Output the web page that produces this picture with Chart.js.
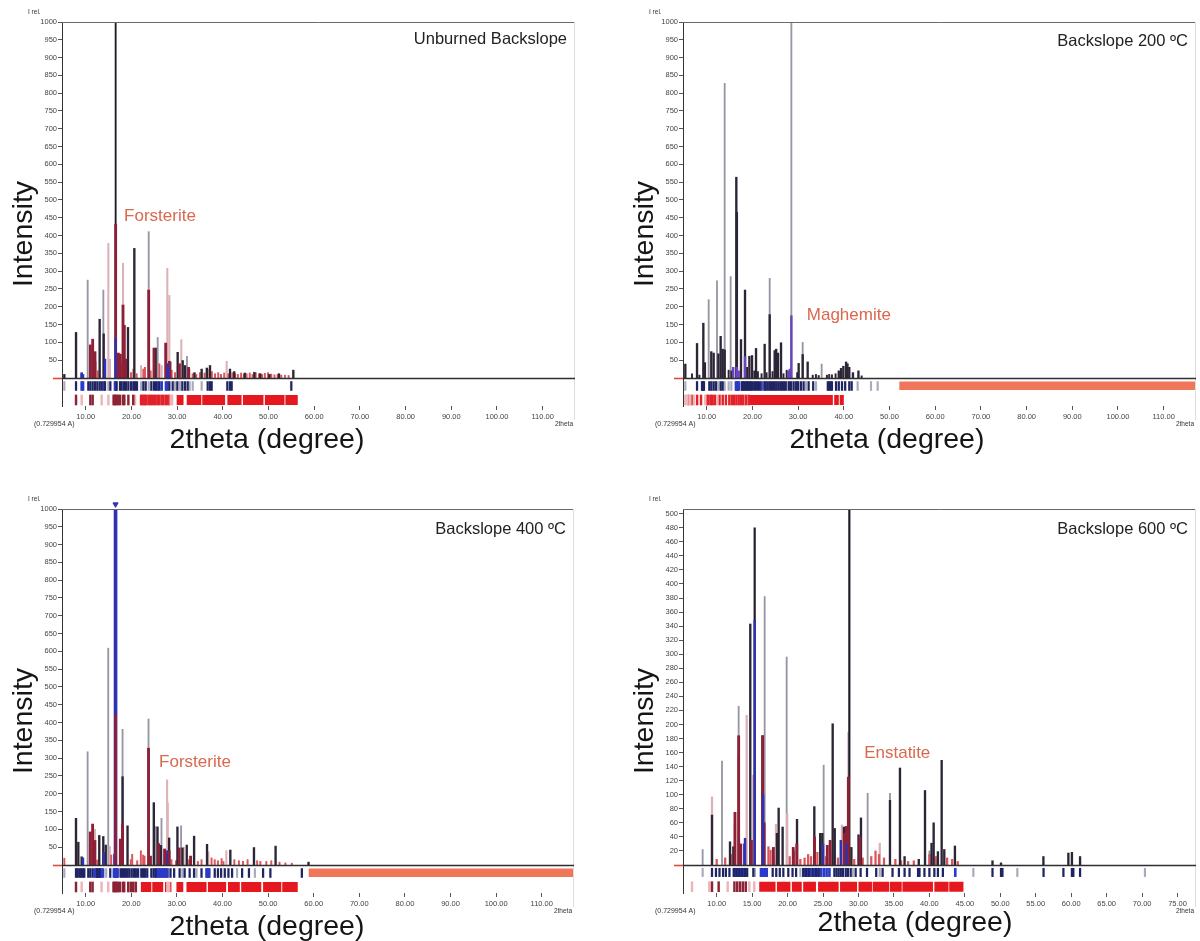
<!DOCTYPE html>
<html>
<head>
<meta charset="utf-8">
<script src="https://cdn.jsdelivr.net/npm/chart.js@4.4.1/dist/chart.umd.min.js"></script>
<style>
  body { margin: 0; background: #fff; width: 1200px; height: 941px; position: relative; overflow: hidden; }
  canvas { position: absolute; }
</style>
</head>
<body>
<canvas id="unburned" width="579" height="454" style="left:0;top:0"></canvas>
<canvas id="b200" width="579" height="454" style="left:621px;top:0"></canvas>
<canvas id="b400" width="579" height="454" style="left:0;top:487px"></canvas>
<canvas id="b600" width="579" height="454" style="left:621px;top:487px"></canvas>
<script>
// ---- axis ticks ----
const ticksWide = [10, 20, 30, 40, 50, 60, 70, 80, 90, 100, 110];
const ticksNarrow = [10, 15, 20, 25, 30, 35, 40, 45, 50, 55, 60, 65, 70, 75];
const ticksI1000 = [50, 100, 150, 200, 250, 300, 350, 400, 450, 500, 550, 600, 650, 700, 750, 800, 850, 900, 950, 1000];
const ticksI500 = [20, 40, 60, 80, 100, 120, 140, 160, 180, 200, 220, 240, 260, 280, 300, 320, 340, 360, 380, 400, 420, 440, 460, 480, 500];

// ---- Unburned Backslope: sticks [2theta, I rel.] ----
const unburnedMain = [[16.55, 1000]];
const unburnedGray = [[10.43, 275], [13.86, 247], [23.78, 411], [25.75, 114], [32.16, 61]];
const unburnedPink = [[12.25, 46], [14.95, 378], [15.31, 53], [18.16, 322], [22.1, 35], [26.62, 35], [27.86, 308], [28.3, 232], [30.92, 108], [40.84, 47]];
const unburnedDark = [[5.32, 10], [7.88, 128], [9.12, 12], [13.05, 165], [13.93, 124], [19.25, 142], [20.64, 364], [25.31, 84], [28.3, 47], [30.12, 72], [31.22, 49], [31.73, 35], [33.8, 15], [35.37, 25], [36.5, 28], [37.2, 35], [41.57, 25], [42.5, 18], [44.8, 14], [46.9, 16], [48.2, 12], [50.2, 10], [52.3, 12], [55.43, 22]];
const unburnedWine = [[11.01, 93], [11.52, 109], [12.03, 74], [16.55, 432], [17.14, 70], [17.58, 67], [18.16, 205], [18.45, 148], [18.74, 53], [23.78, 247], [24.94, 84], [27.5, 98], [28.45, 45], [30.5, 40], [32.5, 30]];
const unburnedBlue = [[9.12, 15], [9.41, 10], [14.22, 53], [16.55, 110], [27.9, 40], [28.1, 25]];
const unburnedRed = [[12.62, 20], [17.87, 40], [19.91, 15], [20.42, 25], [21.15, 12], [22.61, 25], [22.97, 30], [24.21, 20], [26.11, 40], [28.81, 22], [29.54, 15], [32.67, 25], [33.4, 12], [34.2, 10], [35.0, 15], [36.0, 14], [36.7, 25], [37.6, 18], [38.3, 12], [39.0, 15], [39.6, 10], [40.3, 14], [41.2, 12], [42.1, 15], [42.7, 12], [43.3, 10], [44.0, 14], [44.6, 10], [45.2, 12], [45.9, 14], [46.5, 10], [47.2, 15], [47.9, 12], [48.6, 10], [49.2, 13], [49.9, 15], [50.6, 11], [51.3, 9], [52.0, 10], [52.8, 8], [53.6, 8], [54.4, 7]];
// reflection markers
const unburnedRefNavy = [7.88, 10.57, 11.01, 11.52, 12.03, 12.54, 13.05, 13.49, 14.22, 15.39, 16.77, 17.5, 17.87, 18.38, 18.82, 19.33, 19.91, 20.42, 20.79, 21.22, 22.61, 23.12, 24.36, 24.94, 25.38, 26.11, 28.3, 29.03, 30.05, 31.14, 31.73, 32.31, 36.69, 37.2, 37.56, 40.99, 41.57, 41.94, 54.99];
const unburnedRefBlue = [9.12, 9.41, 13.93, 16.41, 16.55, 25.75, 26.62, 27.57, 27.86];
const unburnedRefGray = [5.32, 14.95, 22.1, 23.78, 29.54, 30.63, 32.75, 33.42, 35.37];
const unburnedPhaseWine = [7.88, 11.01, 11.52, 16.1, 16.3, 16.55, 16.8, 17.14, 17.5, 18.16, 18.45, 19.33, 20.4];
const unburnedPhasePink = [9.12, 13.49, 14.95, 20.79, 28.6, 28.9];
const unburnedPhaseRed = [22.1, 22.4, 22.7, 23.0, 23.3, 23.78, 24.1, 24.5, 24.94, 25.3, 25.75, 26.1, 26.6, 27.0, 27.5, 27.86, 28.3];
const unburnedPhaseBlocks = [[29.9, 31.4], [32.1, 35.3], [35.5, 40.5], [41.0, 44.1], [44.4, 48.9], [49.2, 53.5], [53.7, 56.4]];

// ---- Backslope 200 ºC ----
const b200Gray = [[10.43, 220], [12.25, 273], [13.93, 828], [15.24, 285], [23.78, 280], [28.52, 1000], [31.0, 100], [35.15, 39]];
const b200Dark = [[5.32, 39], [7.88, 97], [9.26, 154], [9.6, 43], [11.0, 74], [11.52, 70], [12.55, 68], [13.05, 117], [13.49, 81], [13.93, 79], [16.48, 564], [16.6, 465], [17.5, 108], [18.38, 247], [19.33, 61], [19.91, 63], [20.79, 83], [22.68, 95], [23.78, 178], [24.87, 77], [25.2, 81], [25.6, 70], [26.26, 99], [30.12, 41], [31.0, 66], [32.09, 45], [38.9, 20], [39.4, 27], [39.9, 33], [40.5, 45], [40.8, 40], [41.2, 30], [42.0, 15], [43.2, 20]];
const b200Purple = [[15.8, 30], [16.6, 30], [17.0, 20], [18.38, 60], [27.9, 20], [28.2, 25], [28.52, 175]];
const b200Small = [[6.78, 12], [8.4, 8], [14.8, 22], [15.4, 20], [18.82, 30], [20.42, 20], [21.2, 18], [22.0, 12], [23.1, 15], [24.4, 18], [26.8, 12], [27.5, 22], [29.8, 15], [33.2, 8], [33.9, 10], [34.5, 7], [36.3, 8], [36.8, 10], [37.4, 9], [38.2, 12], [43.9, 6]];
const b200RefNavy = [7.88, 8.97, 9.1, 9.25, 9.4, 10.57, 11.01, 11.52, 12.03, 13.05, 13.49, 17.65, 17.9, 18.2, 18.5, 18.8, 19.1, 19.4, 19.7, 20.0, 20.4, 20.8, 21.2, 21.6, 22.61, 22.9, 23.3, 23.7, 24.1, 24.5, 24.9, 25.3, 25.7, 26.1, 26.5, 26.9, 27.3, 28.0, 28.44, 29.0, 29.5, 30.0, 30.6, 31.2, 32.3, 33.3, 36.5, 36.8, 37.1, 37.4, 38.3, 38.9, 39.6, 40.3, 41.2, 41.72];
const b200RefBlue = [16.4, 16.6, 16.8, 17.0, 22.0];
const b200RefGray = [5.32, 12.54, 13.93, 14.8, 15.39, 27.7, 29.8, 31.7, 33.92, 43.03, 45.95, 47.41];
const b200RefBand = [[52.15, 117.1]];
const b200PhasePink = [5.32, 5.8, 6.4, 7.2, 9.7, 12.3];
const b200PhaseRed = [6.0, 6.8, 7.9, 8.75, 10.0, 10.4, 10.9, 11.3, 11.8, 12.8, 13.5, 14.2, 14.95, 15.5, 16.0, 16.5, 17.0, 17.5, 18.0, 18.6, 19.18];
const b200PhaseBlocks = [[19.3, 37.6], [37.9, 38.9], [39.1, 40.0]];

// ---- Backslope 400 ºC ----
const b400Main = [[16.55, 1000]];
const b400Gray = [[10.43, 318], [14.95, 609], [18.09, 381], [23.78, 410], [25.31, 108], [26.62, 131], [30.92, 110]];
const b400Pink = [[12.03, 100], [15.3, 52], [27.86, 239], [28.0, 174], [31.5, 50], [36.9, 37], [40.84, 40]];
const b400Dark = [[7.88, 131], [8.39, 64], [9.12, 23], [12.98, 83], [13.86, 80], [14.4, 56], [18.09, 248], [19.18, 110], [24.94, 175], [25.75, 107], [26.5, 55], [28.3, 76], [30.12, 107], [31.22, 48], [32.16, 56], [33.77, 81], [36.61, 58], [41.72, 42], [46.9, 49], [51.64, 53], [58.86, 8]];
const b400Wine = [[11.0, 93], [11.52, 115], [12.03, 69], [16.55, 421], [17.6, 73], [17.8, 50], [18.09, 115], [23.78, 328], [24.2, 25], [26.0, 60], [27.3, 45], [28.3, 40], [30.5, 48], [33.0, 25]];
const b400Blue = [[9.41, 20], [14.0, 35], [16.3, 30], [27.5, 30], [27.9, 40]];
const b400Small = [[5.32, 19], [12.54, 14], [15.6, 28], [19.9, 15], [20.2, 30], [21.3, 12], [22.1, 40], [22.6, 28], [22.9, 25], [24.2, 22], [28.81, 15], [29.8, 12], [32.67, 15], [34.6, 10], [35.4, 15], [37.6, 20], [38.3, 15], [39.0, 12], [39.8, 18], [40.2, 10], [42.6, 15], [43.6, 12], [44.5, 10], [45.5, 15], [47.6, 12], [48.3, 10], [49.6, 10], [50.7, 12], [52.5, 8], [53.8, 6], [55.2, 5]];
const b400RefNavy = [7.88, 8.2, 8.6, 9.0, 9.4, 9.7, 10.57, 11.01, 11.52, 12.54, 13.05, 15.39, 17.65, 18.0, 18.4, 18.8, 19.2, 19.6, 20.1, 20.6, 21.0, 21.5, 22.2, 22.6, 23.0, 23.5, 24.4, 24.9, 25.3, 28.6, 29.4, 30.6, 31.7, 32.8, 33.77, 35.4, 38.3, 39.0, 39.7, 40.5, 41.3, 42.1, 44.3, 45.8, 48.9, 50.5, 57.4];
const b400RefBlue = [12.0, 12.3, 12.6, 12.9, 13.2, 13.5, 13.8, 16.2, 16.4, 16.6, 16.8, 17.0, 25.5, 25.8, 26.1, 26.4, 26.7, 27.0, 27.3, 27.6, 27.9, 36.5, 36.7, 36.9, 37.1];
const b400RefGray = [5.32, 14.5, 28.1, 31.2, 34.3, 43.2, 47.1];
const b400RefBand = [[58.9, 117.1]];
const b400PhaseWine = [7.88, 11.01, 11.52, 16.1, 16.3, 16.55, 16.8, 17.14, 17.5, 18.16, 18.45, 19.33, 19.9, 20.4, 21.0];
const b400PhasePink = [9.12, 13.49, 14.95, 20.79, 27.9, 28.3];
const b400PhaseBlocks = [[22.1, 24.4], [24.6, 27.0], [27.4, 28.8], [29.9, 31.4], [32.1, 36.5], [36.8, 40.8], [41.2, 43.8], [44.1, 48.5], [48.9, 52.9], [53.1, 56.5]];

// ---- Backslope 600 ºC ----
const b600Main = [[15.36, 480], [28.71, 506]];
const b600Gray = [[8.02, 22], [10.75, 148], [13.1, 226], [16.77, 382], [19.87, 296], [25.09, 142], [31.29, 102], [34.44, 102], [40.0, 20]];
const b600Pink = [[9.34, 97], [14.23, 213], [15.17, 128], [18.36, 58], [19.95, 73], [27.67, 57], [28.57, 189], [33.0, 31]];
const b600Dark = [[9.34, 71], [11.88, 33], [12.35, 26], [14.74, 343], [16.48, 184], [18.5, 45], [18.74, 81], [19.3, 54], [21.33, 65], [23.77, 83], [24.6, 45], [24.9, 45], [26.36, 201], [26.65, 52], [27.95, 54], [29.0, 25], [30.0, 43], [30.35, 67], [34.44, 92], [35.85, 138], [36.5, 12], [38.5, 8], [39.38, 106], [40.3, 31], [40.6, 60], [41.2, 19], [41.73, 149], [42.1, 22], [43.6, 27], [48.9, 6], [50.1, 3], [56.08, 12], [59.6, 17], [60.1, 18], [61.25, 12]];
const b600Blue = [[13.9, 30], [14.0, 38], [15.36, 348], [16.55, 100], [25.0, 30], [27.5, 35], [28.3, 30]];
const b600Wine = [[12.58, 75], [13.1, 184], [13.4, 30], [14.9, 35], [16.48, 184], [16.7, 60], [18.0, 25], [20.8, 25], [21.3, 30], [23.8, 40], [25.6, 28], [26.0, 35], [28.0, 45], [28.3, 55], [28.57, 125], [30.2, 40]];
const b600Red = [[10.0, 8], [11.2, 10], [12.0, 15], [12.58, 60], [13.1, 154], [16.48, 118], [17.3, 26], [17.6, 21], [18.0, 10], [20.3, 12], [20.9, 20], [21.8, 8], [22.4, 10], [22.9, 15], [23.3, 12], [24.2, 18], [25.4, 12], [26.0, 20], [27.1, 10], [29.4, 8], [30.6, 10], [31.8, 12], [32.4, 20], [32.9, 15], [33.6, 10], [35.2, 8], [36.0, 6], [37.0, 5], [37.8, 6], [40.0, 15], [40.9, 12], [42.5, 10], [43.2, 8], [44.0, 5]];
const b600RefNavy = [9.34, 9.9, 10.4, 10.9, 11.3, 11.8, 12.4, 12.8, 13.2, 13.6, 14.0, 14.3, 15.17, 17.9, 18.4, 18.9, 19.4, 20.1, 20.7, 21.2, 22.2, 22.6, 23.0, 23.5, 24.0, 24.4, 26.6, 26.9, 27.2, 27.5, 27.8, 28.2, 28.5, 28.9, 29.6, 30.3, 31.2, 32.5, 33.4, 34.8, 35.7, 36.5, 37.2, 38.4, 38.6, 39.3, 40.0, 40.7, 41.2, 41.9, 48.9, 50.1, 50.3, 56.1, 58.9, 60.1, 60.3, 61.25];
const b600RefBlue = [12.6, 13.0, 13.4, 13.8, 16.25, 16.5, 16.8, 17.05, 22.4, 22.8, 23.2, 23.7, 24.2, 24.7, 25.1, 25.5, 25.9, 43.65];
const b600RefGray = [8.02, 15.4, 17.0, 21.8, 29.2, 33.0, 46.2, 52.4, 70.4];
const b600PhaseWine = [9.34, 10.28, 12.5, 12.9, 13.3, 13.7, 14.1];
const b600PhasePink = [6.52, 8.96, 11.55, 14.6, 15.3];
const b600PhaseBlocks = [[16.0, 18.3], [18.5, 20.4], [20.6, 22.0], [22.2, 24.0], [24.3, 27.2], [27.4, 29.8], [30.0, 31.9], [32.0, 34.3], [34.4, 36.1], [36.2, 40.5], [40.7, 42.7], [42.8, 44.8]];

const C = {
  main: '#1e1b24', gray: 'rgba(128,124,140,0.8)', pink: '#dcb1b7', dark: '#2c2536',
  wine: '#8d2037', blue: '#2f31b2', purple: '#6a45bf', red: '#d9575c',
  navy: '#1f2462', refBlue: '#2b3bc8', refGray: '#a9abba', phaseWine: '#8b2535',
  phasePink: '#ecb5b9', phaseRed: '#e1222b', block: '#e5171f', salmon: '#ef7658',
  phaseLabel: '#d9684e'
};
const FONT = "'Liberation Sans', Arial, sans-serif";

function sticks(points, color, width, order) {
  return { type: 'bar', data: points.map(([x, y]) => ({ x, y })), backgroundColor: color,
    barThickness: width, grouped: false, borderWidth: 0, order };
}
function markers(xs, lo, hi, color, width) {
  return { type: 'bar', data: xs.map(x => ({ x, y: [lo, hi] })), backgroundColor: color,
    barThickness: width, grouped: false, borderWidth: 0, order: 8 };
}
function bands(ranges, y, px, color) {
  return { type: 'line', data: ranges.flatMap(([a, b]) => [{ x: a, y }, { x: b, y }, { x: b, y: null }]),
    borderColor: color, borderWidth: px, borderCapStyle: 'butt', pointRadius: 0,
    spanGaps: false, order: 9 };
}

// frame, zero line and the text of every panel
const xrdFrame = {
  id: 'xrdFrame',
  afterDatasetsDraw(chart, args, o) {
    const { ctx, chartArea: a, scales: { y } } = chart;
    const y0 = Math.round(y.getPixelForValue(0)) + 0.5;
    ctx.save();
    ctx.lineWidth = 1;
    ctx.strokeStyle = '#6a6a6a';
    ctx.beginPath(); ctx.moveTo(a.left, a.top + 0.5); ctx.lineTo(a.right, a.top + 0.5); ctx.stroke();
    ctx.strokeStyle = '#dedede';
    ctx.beginPath(); ctx.moveTo(a.right - 0.5, a.top); ctx.lineTo(a.right - 0.5, a.bottom + 14); ctx.stroke();
    ctx.lineWidth = 1.6;
    ctx.strokeStyle = '#e0493e';
    ctx.beginPath(); ctx.moveTo(a.left - 9, y0); ctx.lineTo(a.left, y0); ctx.stroke();
    ctx.strokeStyle = '#2e2e33';
    ctx.beginPath(); ctx.moveTo(a.left, y0); ctx.lineTo(a.right, y0); ctx.stroke();
    ctx.restore();
  },
  afterDraw(chart, args, o) {
    const { ctx, chartArea: a, scales: { x, y } } = chart;
    ctx.save();
    ctx.textBaseline = 'middle';
    ctx.fillStyle = '#222';
    ctx.font = `16.5px ${FONT}`;
    ctx.textAlign = 'right';
    ctx.fillText(o.title, a.right - 8, o.titleY);

    ctx.fillStyle = C.phaseLabel;
    ctx.font = `17px ${FONT}`;
    ctx.textAlign = 'left';
    ctx.fillText(o.phase, x.getPixelForValue(o.phaseAt[0]), y.getPixelForValue(o.phaseAt[1]));

    ctx.fillStyle = '#333';
    ctx.font = `6.5px ${FONT}`;
    ctx.fillText('I rel.', 28, 12);
    ctx.font = `7px ${FONT}`;
    ctx.fillText('(0.729954 A)', 34, 424);
    ctx.textAlign = 'right';
    ctx.font = `6.5px ${FONT}`;
    ctx.fillText('2theta', a.right - 2, a.bottom + 18);

    ctx.fillStyle = '#151515';
    ctx.font = `28.5px ${FONT}`;
    ctx.textAlign = 'center';
    ctx.fillText('2theta (degree)', o.xTitle[0], o.xTitle[1]);
    ctx.translate(24, 234);
    ctx.rotate(-Math.PI / 2);
    ctx.fillText('Intensity', 0, 0);
    ctx.restore();
  }
};

function drawPanel(id, p) {
  new Chart(document.getElementById(id), {
    type: 'bar',
    data: { datasets: p.datasets },
    plugins: [xrdFrame],
    options: {
      responsive: false,
      animation: false,
      layout: { padding: { left: 0, right: 4, top: 22, bottom: 0 } },
      plugins: {
        legend: { display: false },
        tooltip: { enabled: false },
        xrdFrame: p.text
      },
      scales: {
        x: {
          type: 'linear', min: p.xMin, max: p.xMax, offset: false,
          afterBuildTicks: s => { s.ticks = p.xTicks.map(v => ({ value: v })); },
          afterFit: s => { s.height = 48; },
          border: { display: false },
          grid: { offset: false, drawOnChartArea: false, drawTicks: true, tickLength: 4, color: '#555' },
          ticks: { padding: 2, maxRotation: 0, autoSkip: false, color: '#444',
            font: { family: FONT, size: 7.5 }, callback: v => v.toFixed(2) }
        },
        y: {
          min: p.yMin, max: p.yMax,
          afterBuildTicks: s => { s.ticks = p.yTicks.map(v => ({ value: v })); },
          afterFit: s => { s.width = 62; },
          border: { display: true, color: '#333', width: 1 },
          grid: { drawOnChartArea: false, drawTicks: true, tickLength: 4, color: '#555' },
          ticks: { padding: 1, color: '#444', font: { family: FONT, size: 7.5 }, callback: v => String(v) }
        }
      }
    }
  });
}

// rows below the zero line (intensity units of each panel)
const ROW_A = [-35, -10], ROW_B = [-75.8, -47.8], ROW_B_MID = -61.8, ROW_A_MID = -22;
const ROW4_A = [-16.6, -4.7], ROW4_B = [-38, -23.8], ROW4_B_MID = -30.9;

drawPanel('unburned', {
  xMin: 4.81, xMax: 117.07, xTicks: ticksWide, yMin: -78.7, yMax: 1000, yTicks: ticksI1000,
  text: { title: 'Unburned Backslope', titleY: 39, phase: 'Forsterite', phaseAt: [18.4, 453], xTitle: [267, 440] },
  datasets: [
    sticks(unburnedBlue, C.blue, 1.8, 1),
    sticks(unburnedWine, C.wine, 2.2, 2),
    sticks(unburnedMain, C.main, 1.2, 3),
    sticks(unburnedDark, C.dark, 1.7, 3),
    sticks(unburnedRed, C.red, 1.3, 4),
    sticks(unburnedPink, C.pink, 1.4, 5),
    sticks(unburnedGray, C.gray, 1.2, 5),
    markers(unburnedRefNavy, ROW_A[0], ROW_A[1], C.navy, 1.6),
    markers(unburnedRefBlue, ROW_A[0], ROW_A[1], C.refBlue, 2),
    markers(unburnedRefGray, ROW_A[0], ROW_A[1], C.refGray, 1.5),
    markers(unburnedPhaseWine, ROW_B[0], ROW_B[1], C.phaseWine, 1.8),
    markers(unburnedPhasePink, ROW_B[0], ROW_B[1], C.phasePink, 1.8),
    markers(unburnedPhaseRed, ROW_B[0], ROW_B[1], C.phaseRed, 1.8),
    bands(unburnedPhaseBlocks, ROW_B_MID, 10, C.block)
  ]
});

drawPanel('b200', {
  xMin: 4.81, xMax: 117.07, xTicks: ticksWide, yMin: -78.7, yMax: 1000, yTicks: ticksI1000,
  text: { title: 'Backslope 200 ºC', titleY: 41, phase: 'Maghemite', phaseAt: [31.9, 177], xTitle: [266, 440] },
  datasets: [
    sticks(b200Purple, C.purple, 1.8, 1),
    sticks(b200Dark, C.dark, 1.7, 3),
    sticks(b200Small, C.dark, 1.3, 4),
    sticks(b200Gray, C.gray, 1.2, 5),
    markers(b200RefNavy, ROW_A[0], ROW_A[1], C.navy, 1.6),
    markers(b200RefBlue, ROW_A[0], ROW_A[1], C.refBlue, 2),
    markers(b200RefGray, ROW_A[0], ROW_A[1], C.refGray, 1.5),
    bands(b200RefBand, ROW_A_MID, 8.5, C.salmon),
    markers(b200PhasePink, ROW_B[0], ROW_B[1], C.phasePink, 1.8),
    markers(b200PhaseRed, ROW_B[0], ROW_B[1], C.phaseRed, 1.8),
    bands(b200PhaseBlocks, ROW_B_MID, 10, C.block)
  ]
});

drawPanel('b400', {
  xMin: 4.81, xMax: 117.07, xTicks: ticksWide, yMin: -78.7, yMax: 1000, yTicks: ticksI1000,
  text: { title: 'Backslope 400 ºC', titleY: 42, phase: 'Forsterite', phaseAt: [26.1, 288], xTitle: [267, 440] },
  datasets: [
    { type: 'scatter', data: [{ x: 16.55, y: 1013 }], pointStyle: 'triangle', rotation: 180,
      pointRadius: 3, backgroundColor: C.blue, borderColor: C.blue, clip: false, order: 0 },
    sticks(b400Wine, C.wine, 2.2, 1),
    sticks(b400Blue, C.blue, 1.8, 2),
    sticks(b400Main, C.blue, 3, 3),
    sticks(b400Dark, C.dark, 1.7, 3),
    sticks(b400Small, C.red, 1.3, 4),
    sticks(b400Pink, C.pink, 1.4, 5),
    sticks(b400Gray, C.gray, 1.2, 5),
    markers(b400RefNavy, ROW_A[0], ROW_A[1], C.navy, 1.6),
    markers(b400RefBlue, ROW_A[0], ROW_A[1], C.refBlue, 2),
    markers(b400RefGray, ROW_A[0], ROW_A[1], C.refGray, 1.5),
    bands(b400RefBand, ROW_A_MID, 8.5, C.salmon),
    markers(b400PhaseWine, ROW_B[0], ROW_B[1], C.phaseWine, 1.8),
    markers(b400PhasePink, ROW_B[0], ROW_B[1], C.phasePink, 1.8),
    bands(b400PhaseBlocks, ROW_B_MID, 10, C.block)
  ]
});

drawPanel('b600', {
  xMin: 5.25, xMax: 77.6, xTicks: ticksNarrow, yMin: -39.9, yMax: 506.7, yTicks: ticksI500,
  text: { title: 'Backslope 600 ºC', titleY: 42, phase: 'Enstatite', phaseAt: [30.8, 159], xTitle: [294, 436] },
  datasets: [
    sticks(b600Blue, C.blue, 1.8, 1),
    sticks(b600Wine, C.wine, 2.2, 2),
    sticks(b600Main, C.main, 1.5, 3),
    sticks(b600Dark, C.dark, 1.7, 3),
    sticks(b600Red, C.red, 1.6, 4),
    sticks(b600Pink, C.pink, 1.6, 5),
    sticks(b600Gray, C.gray, 1.2, 5),
    markers(b600RefNavy, ROW4_A[0], ROW4_A[1], C.navy, 1.6),
    markers(b600RefBlue, ROW4_A[0], ROW4_A[1], C.refBlue, 2),
    markers(b600RefGray, ROW4_A[0], ROW4_A[1], C.refGray, 1.5),
    markers(b600PhaseWine, ROW4_B[0], ROW4_B[1], C.phaseWine, 1.8),
    markers(b600PhasePink, ROW4_B[0], ROW4_B[1], C.phasePink, 1.8),
    bands(b600PhaseBlocks, ROW4_B_MID, 10, C.block)
  ]
});
</script>
</body>
</html>
